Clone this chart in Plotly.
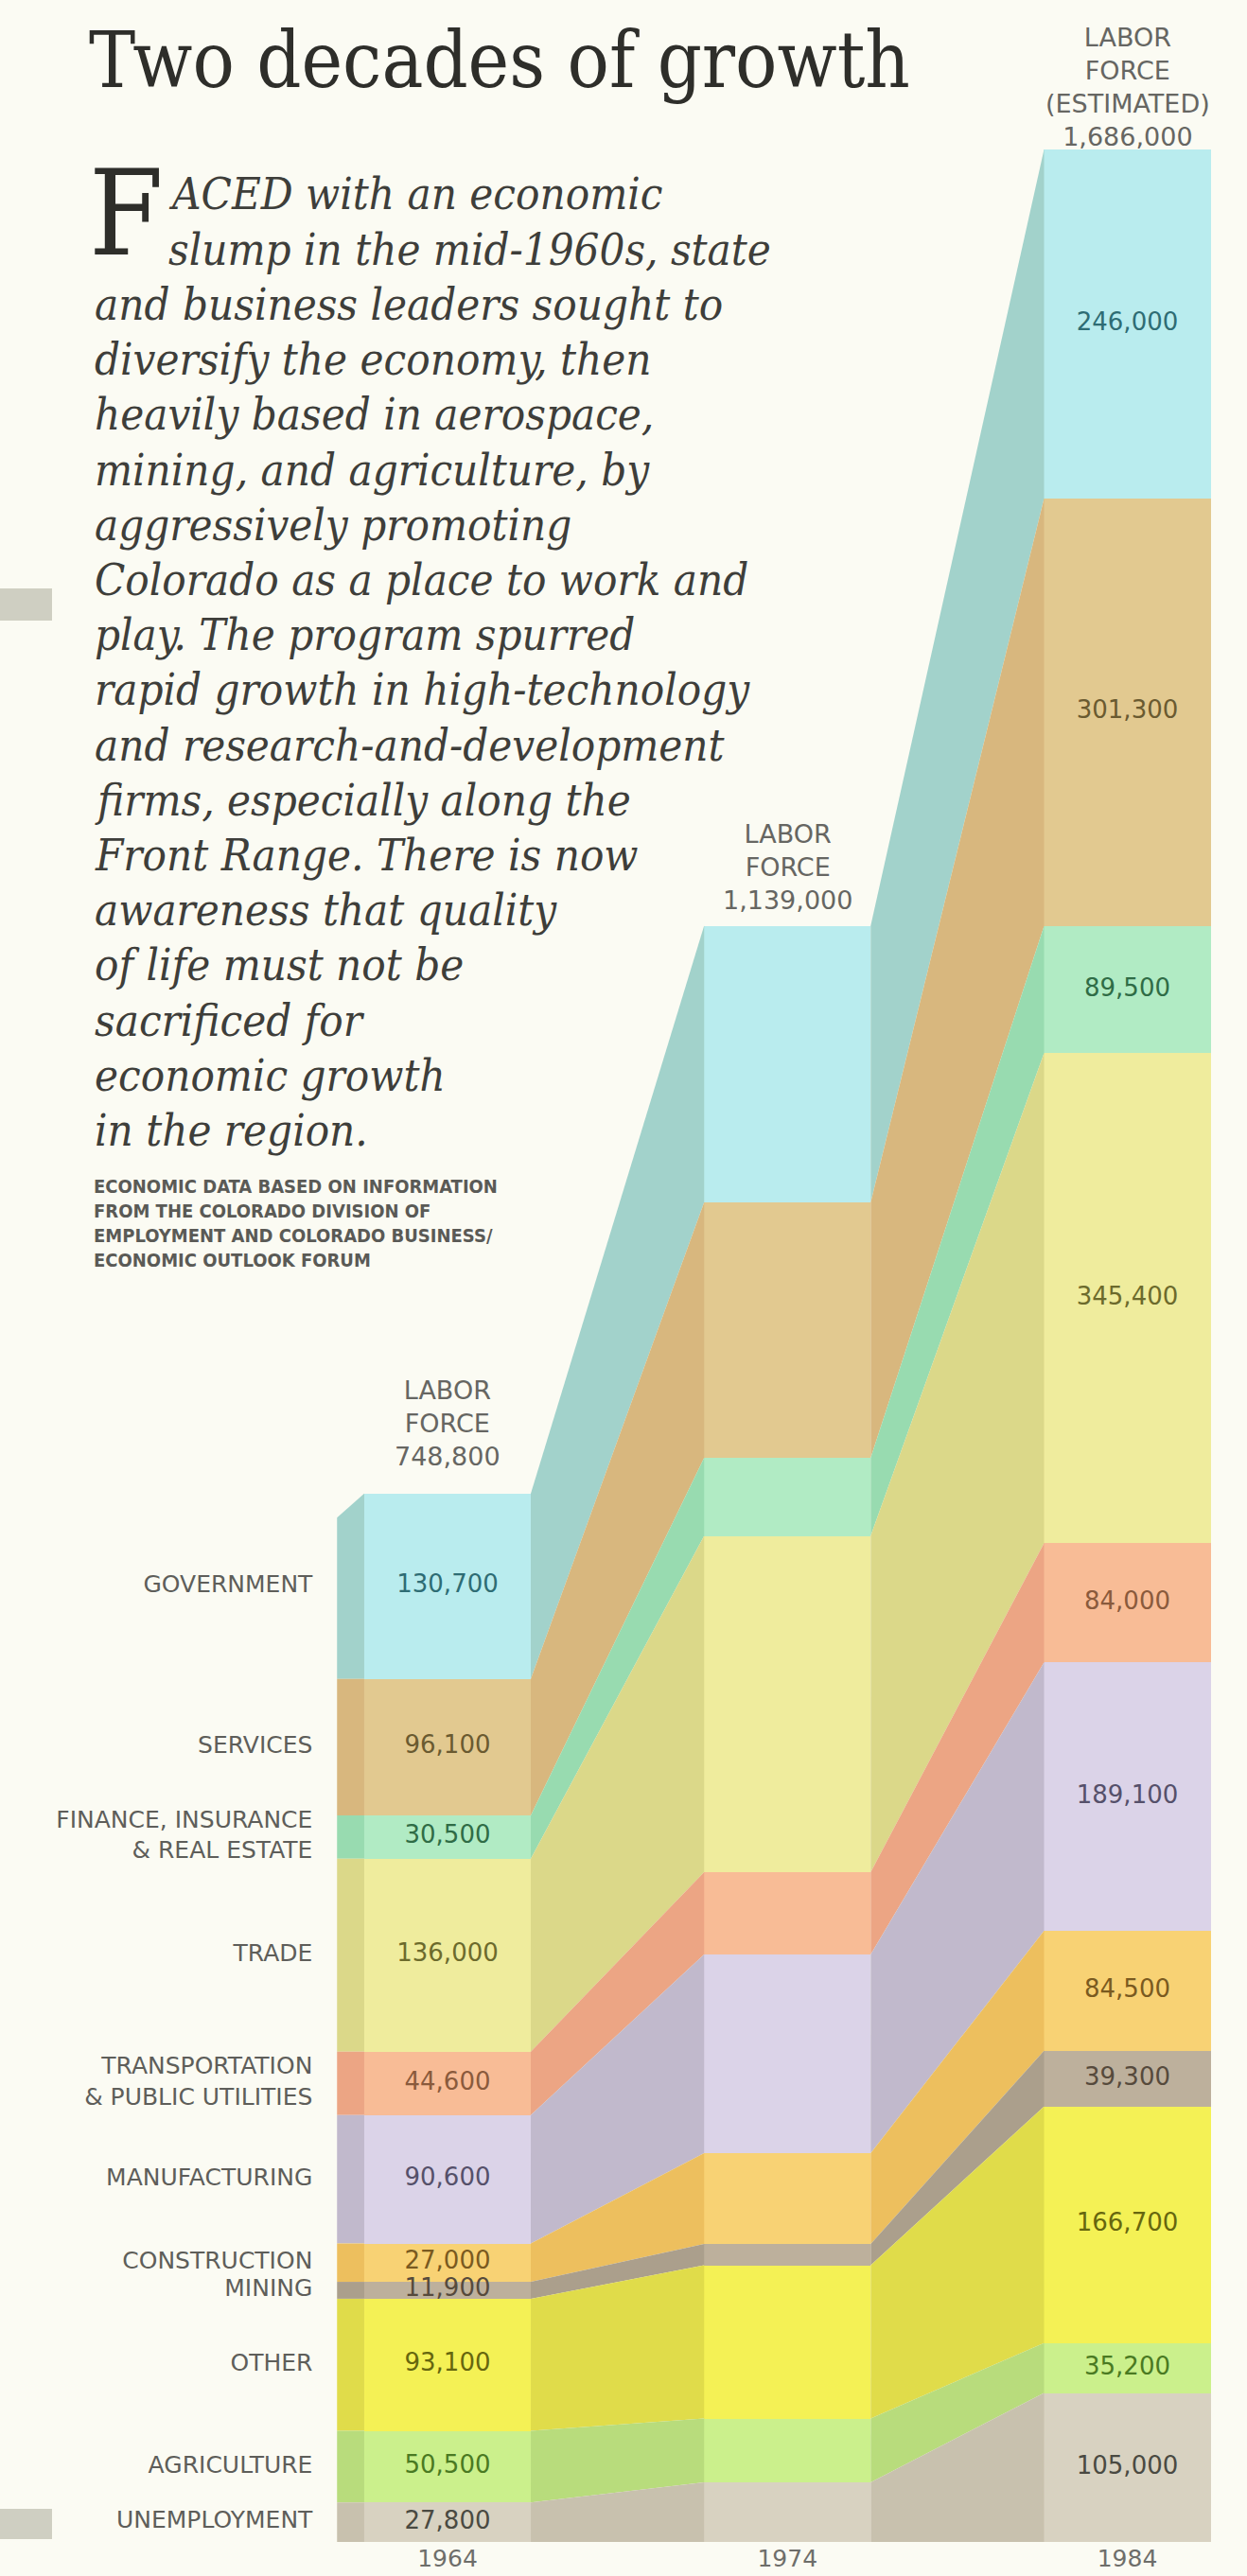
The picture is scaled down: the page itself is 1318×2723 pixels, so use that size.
import plotly.graph_objects as go

# ---------------- data ----------------
years = [1964, 1974, 1984]
year_labels = ["1964", "1974", "1984"]
categories = [
    "GOVERNMENT", "SERVICES", "FINANCE, INSURANCE<br>& REAL ESTATE", "TRADE",
    "TRANSPORTATION<br>& PUBLIC UTILITIES", "MANUFACTURING", "CONSTRUCTION",
    "MINING", "OTHER", "AGRICULTURE", "UNEMPLOYMENT",
]
v1964 = [130700, 96100, 30500, 136000, 44600, 90600, 27000, 11900, 93100, 50500, 27800]
v1974 = [195000, 180000, 55000, 237000, 58000, 140000, 64000, 15000, 108000, 45000, 42000]
v1984 = [246000, 301300, 89500, 345400, 84000, 189100, 84500, 39300, 166700, 35200, 105000]
labels_1964 = ["130,700", "96,100", "30,500", "136,000", "44,600", "90,600",
               "27,000", "11,900", "93,100", "50,500", "27,800"]
labels_1984 = ["246,000", "301,300", "89,500", "345,400", "84,000", "189,100",
               "84,500", "39,300", "166,700", "35,200", "105,000"]
labor_force_text = [
    "LABOR<br>FORCE<br>748,800",
    "LABOR<br>FORCE<br>1,139,000",
    "LABOR<br>FORCE<br>(ESTIMATED)<br>1,686,000",
]
title_text = "Two decades of growth"
drop_cap = "F"
body_lines = [
    "ACED with an economic",
    "slump in the mid-1960s, state",
    "and business leaders sought to",
    "diversify the economy, then",
    "heavily based in aerospace,",
    "mining, and agriculture, by",
    "aggressively promoting",
    "Colorado as a place to work and",
    "play. The program spurred",
    "rapid growth in high-technology",
    "and research-and-development",
    "firms, especially along the",
    "Front Range. There is now",
    "awareness that quality",
    "of life must not be",
    "sacrificed for",
    "economic growth",
    "in the region.",
]
source_lines = [
    "ECONOMIC DATA BASED ON INFORMATION",
    "FROM THE COLORADO DIVISION OF",
    "EMPLOYMENT AND COLORADO BUSINESS/",
    "ECONOMIC OUTLOOK FORUM",
]

# ---------------- styles ----------------
face_colors = ["#b9ecee", "#e2c990", "#b1ebc4", "#efec9d", "#f8bc96", "#dbd3e8",
               "#f8d274", "#bdb09c", "#f4f155", "#cbf08c", "#d8d2c1"]
ramp_colors = ["#a2d2cb", "#d8b77e", "#98dbb0", "#dbd889", "#eca584", "#c1b9cc",
               "#edbf5e", "#ab9f8c", "#e0dc4a", "#b8dc7c", "#c8c1ae"]
text_colors = ["#2e6c74", "#6a5a30", "#2f6c46", "#6c6a2c", "#8a5a3c", "#55506a",
               "#7a5a20", "#564a3c", "#66660e", "#4a7a22", "#4a4a42"]
label_gray = "#5e5e5a"
bg = "#fbfbf3"
serif = "DejaVu Serif Condensed, DejaVu Serif, serif"
labor_yshift = [22, 10, -4]

W, H = 1318, 2723
MB = 36
plot_h = H - MB
px_per_unit = 1.5 / 1000.0
y_max = plot_h / px_per_unit
x0px, px_per_year = 473.0, 35.925
x_range = [1964 - x0px / px_per_year, 1964 + (W - x0px) / px_per_year]
half_w = 2.45
side_w = 0.8
side_drop = 17000


def paper(xp, yp):
    return xp / W, 1 - yp / plot_h


n = len(categories)
series = [v1964, v1974, v1984]


def stack(vals):
    bottoms, tops, acc = [0] * n, [0] * n, 0
    for i in range(n - 1, -1, -1):
        bottoms[i] = acc
        acc += vals[i]
        tops[i] = acc
    return bottoms, tops


stacks = [stack(v) for v in series]
totals = [sum(v) for v in series]

fig = go.Figure()

# side face of the 1964 column
xl = years[0] - half_w
xs = xl - side_w
b0, t0 = stacks[0]
for i in range(n):
    top_left = t0[i] - (side_drop if i == 0 else 0)
    fig.add_trace(go.Scatter(
        x=[xs, xs, xl, xl, xs], y=[b0[i], top_left, t0[i], b0[i], b0[i]],
        mode="lines", fill="toself", fillcolor=ramp_colors[i],
        line=dict(width=0), hoverinfo="skip", showlegend=False))

# connecting ramps between columns
for j in range(len(years) - 1):
    xa = years[j] + half_w
    xb = years[j + 1] - half_w
    ba, ta = stacks[j]
    bb, tb = stacks[j + 1]
    for i in range(n):
        fig.add_trace(go.Scatter(
            x=[xa, xa, xb, xb, xa], y=[ba[i], ta[i], tb[i], bb[i], ba[i]],
            mode="lines", fill="toself", fillcolor=ramp_colors[i],
            line=dict(width=0), hoverinfo="skip", showlegend=False))

# stacked columns
for i in range(n - 1, -1, -1):
    fig.add_trace(go.Bar(
        x=years, y=[v[i] for v in series], width=2 * half_w,
        marker=dict(color=face_colors[i], line=dict(width=0)),
        hoverinfo="skip", showlegend=False))

# value labels
mids64 = [(b + t) / 2 for b, t in zip(*stacks[0])]
mids84 = [(b + t) / 2 for b, t in zip(*stacks[2])]
fig.add_trace(go.Scatter(
    x=[years[0]] * n + [years[2]] * n, y=mids64 + mids84,
    text=labels_1964 + labels_1984, mode="text",
    textfont=dict(family="DejaVu Sans", size=26, color=text_colors + text_colors),
    hoverinfo="skip", showlegend=False))

# category labels
lab_x = xs - 0.72
fig.add_trace(go.Scatter(
    x=[lab_x] * n, y=mids64, text=categories, mode="text",
    textposition="middle left",
    textfont=dict(family="DejaVu Sans", size=25, color=label_gray),
    hoverinfo="skip", showlegend=False))

annotations = []
for yr, tot, txt, ys in zip(years, totals, labor_force_text, labor_yshift):
    annotations.append(dict(
        x=yr, y=tot, xref="x", yref="y", text=txt, showarrow=False,
        yanchor="bottom", yshift=ys, align="center",
        font=dict(family="DejaVu Sans", size=27, color="#666662")))

# title
tx, ty = paper(92, 14)
annotations.append(dict(
    x=tx, y=ty, xref="paper", yref="paper", text=title_text, showarrow=False,
    xanchor="left", yanchor="top",
    font=dict(family=serif, size=82, color="#2e2e2a")))

# drop cap
dx, dy = paper(92, 150)
annotations.append(dict(
    x=dx, y=dy, xref="paper", yref="paper", text=drop_cap, showarrow=False,
    xanchor="left", yanchor="top",
    font=dict(family=serif, size=126, color="#2e2e2a")))

# body text, one line per annotation
body_font = dict(family=serif, size=47, color="#3e3e3a", style="italic")
for k, line in enumerate(body_lines):
    lx = 176 if k < 2 else 98
    px_, py_ = paper(lx, 205 + k * 58.2)
    annotations.append(dict(
        x=px_, y=py_, xref="paper", yref="paper", text=line, showarrow=False,
        xanchor="left", yanchor="middle", align="left", font=body_font))

sx, sy = paper(97, 1240)
annotations.append(dict(
    x=sx, y=sy, xref="paper", yref="paper", text="<br>".join(source_lines),
    showarrow=False, xanchor="left", yanchor="top", align="left",
    font=dict(family="DejaVu Sans Condensed, DejaVu Sans", size=20,
              color="#5a5a56", weight="bold")))

shapes = [
    dict(type="rect", xref="paper", yref="paper",
         x0=0, x1=55 / W, y0=1 - 656 / plot_h, y1=1 - 622 / plot_h,
         fillcolor="#cfcfc2", line=dict(width=0), layer="below"),
    dict(type="rect", xref="paper", yref="paper",
         x0=0, x1=55 / W, y0=1 - 2684 / plot_h, y1=1 - 2652 / plot_h,
         fillcolor="#cfcfc2", line=dict(width=0), layer="below"),
]

fig.update_layout(
    width=W, height=H, barmode="stack", bargap=0,
    margin=dict(l=0, r=0, t=0, b=MB, pad=0),
    paper_bgcolor=bg, plot_bgcolor=bg,
    annotations=annotations, shapes=shapes, showlegend=False,
    xaxis=dict(range=x_range, tickvals=years, ticktext=year_labels,
               showgrid=False, zeroline=False, showline=False, ticks="",
               tickfont=dict(family="DejaVu Sans", size=25, color="#6e6e6a"),
               fixedrange=True),
    yaxis=dict(range=[0, y_max], visible=False, showgrid=False, zeroline=False,
               fixedrange=True),
)

fig.write_html("out.html")
